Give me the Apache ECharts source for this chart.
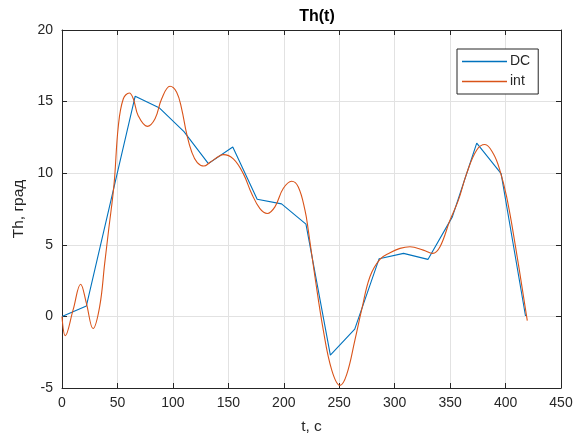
<!DOCTYPE html>
<html>
<head>
<meta charset="utf-8">
<title>Th(t)</title>
<script src="https://cdn.jsdelivr.net/npm/echarts@6/dist/echarts.min.js"></script>
<style>
  html, body { margin: 0; padding: 0; background: #fff; }
  #chart { width: 576px; height: 435px; }
</style>
</head>
<body>
<div id="chart"></div>
<script>
// данные
const titleText = 'Th(t)';
const xName = 't, c';
const yName = 'Th, град';
const seriesNames = ['DC', 'int'];

// DC: кусочно-линейный, шаг ~22 с
const dcT = [0, 22, 66, 88, 110, 132, 154, 176, 198, 220, 242, 264, 286, 308, 330, 352, 374, 396, 418];
const dcTh = [0, 0.73, 15.38, 14.55, 12.9, 10.67, 11.83, 8.18, 7.86, 6.44, -2.7, -0.89, 4.03, 4.4, 3.98, 6.95, 12.1, 9.97, 0.03];

// int: гладкая кривая
const intT = [0, 3, 10, 16.8, 21.9, 28, 34, 38.5, 42, 46.9, 50.8, 55.3, 60.7, 64.3, 68.8, 76.9, 83.9, 89.9,
  97.4, 103.4, 107.9, 112.4, 117, 122, 128, 133.5, 141.9, 145.5, 154.5, 163.5, 171, 178.5, 185.1, 192,
  199.5, 207.1, 213.1, 219.1, 222.1, 228.1, 235.6, 243.2, 250.7, 256.7, 264.2, 270.2, 277.7, 286.7,
  295.8, 304.8, 313.8, 325.8, 334.3, 340.9, 349.9, 357.4, 364.9, 373.9, 381.4, 388.9, 394.9, 401, 408.5, 419.6];
const intTh = [0, -1.35, 0.45, 2.25, 0.95, -0.85, 0.7, 3.7, 6.0, 9.2, 13.3, 15.2, 15.6, 15.2, 14.0, 13.27, 13.8, 15.2,
  16.07, 15.66, 14.5, 12.76, 11.48, 10.74, 10.5, 10.76, 11.2, 11.3, 11.0, 9.97, 8.58, 7.53, 7.19, 7.65,
  8.93, 9.44, 9.04, 7.42, 6.02, 2.77, -0.94, -3.73, -4.82, -4.07, -1.64, 0.45, 2.77, 3.98,
  4.44, 4.75, 4.86, 4.63, 4.4, 4.86, 6.72, 8.1, 9.97, 11.6, 12.0, 11.37, 10.2, 8.34, 5.1, -0.29];

const xMin = 0, xMax = 450, xStep = 50;
const yMin = -5, yMax = 20, yStep = 5;

const font = 'Liberation Sans, Arial, Helvetica, sans-serif';
const ink = '#262626';

function pairs(xs, ys) {
  return xs.map((x, i) => [x, ys[i]]);
}

const chart = echarts.init(document.getElementById('chart'), null, { renderer: 'canvas' });

// оси: основная + «зеркальная» без подписей (рамка с засечками как в MATLAB)
function xAxisOf(pos, main) {
  return {
    type: 'value', position: pos, min: xMin, max: xMax, interval: xStep,
    name: main ? xName : '', nameLocation: 'middle', nameGap: 31,
    nameTextStyle: { fontFamily: font, fontSize: 15.5, color: ink },
    axisLine: { show: true, onZero: false, lineStyle: { color: ink, width: 1 } },
    axisTick: { show: true, inside: true, length: 5, lineStyle: { color: ink } },
    axisLabel: { show: main, margin: 8, fontFamily: font, fontSize: 14, color: ink },
    splitLine: { show: main, lineStyle: { color: '#e2e2e2', width: 1 } }
  };
}
function yAxisOf(pos, main) {
  return {
    type: 'value', position: pos, min: yMin, max: yMax, interval: yStep,
    name: main ? yName : '', nameLocation: 'middle', nameGap: 35,
    nameTextStyle: { fontFamily: font, fontSize: 15.5, color: ink },
    axisLine: { show: true, onZero: false, lineStyle: { color: ink, width: 1 } },
    axisTick: { show: true, inside: true, length: 5, lineStyle: { color: ink } },
    axisLabel: { show: main, margin: 9, fontFamily: font, fontSize: 14, color: ink },
    splitLine: { show: main, lineStyle: { color: '#e2e2e2', width: 1 } }
  };
}

const option = {
  backgroundColor: '#fff',
  animation: false,
  title: {
    text: titleText, left: 312, top: 4, textAlign: 'center',
    textStyle: { fontFamily: font, fontSize: 16, fontWeight: 'bold', color: '#000' }
  },
  grid: { left: 62, right: 15, top: 30, bottom: 47, containLabel: false, outerBoundsMode: 'none' },
  legend: {
    data: seriesNames.map(n => ({ name: n, icon: 'rect' })),
    orient: 'vertical', left: 457, top: 49,
    padding: [5, 8, 5, 5], itemGap: 5, itemWidth: 45, itemHeight: 1.5,
    backgroundColor: '#fff', borderColor: ink, borderWidth: 1,
    textStyle: { fontFamily: font, fontSize: 14, color: ink, lineHeight: 15, padding: [0, 0, 0, -2] }
  },
  xAxis: [xAxisOf('bottom', true), xAxisOf('top', false)],
  yAxis: [yAxisOf('left', true), yAxisOf('right', false)],
  series: [
    {
      name: seriesNames[0], type: 'line', xAxisIndex: 0, yAxisIndex: 0,
      data: pairs(dcT, dcTh), symbol: 'none', smooth: false,
      lineStyle: { color: '#0072BD', width: 1.1 }, itemStyle: { color: '#0072BD' }
    },
    {
      name: seriesNames[1], type: 'line', xAxisIndex: 0, yAxisIndex: 0,
      data: pairs(intT, intTh), symbol: 'none', smooth: 0.4,
      lineStyle: { color: '#D95319', width: 1.1 }, itemStyle: { color: '#D95319' }
    }
  ]
};

chart.setOption(option);
</script>
</body>
</html>
